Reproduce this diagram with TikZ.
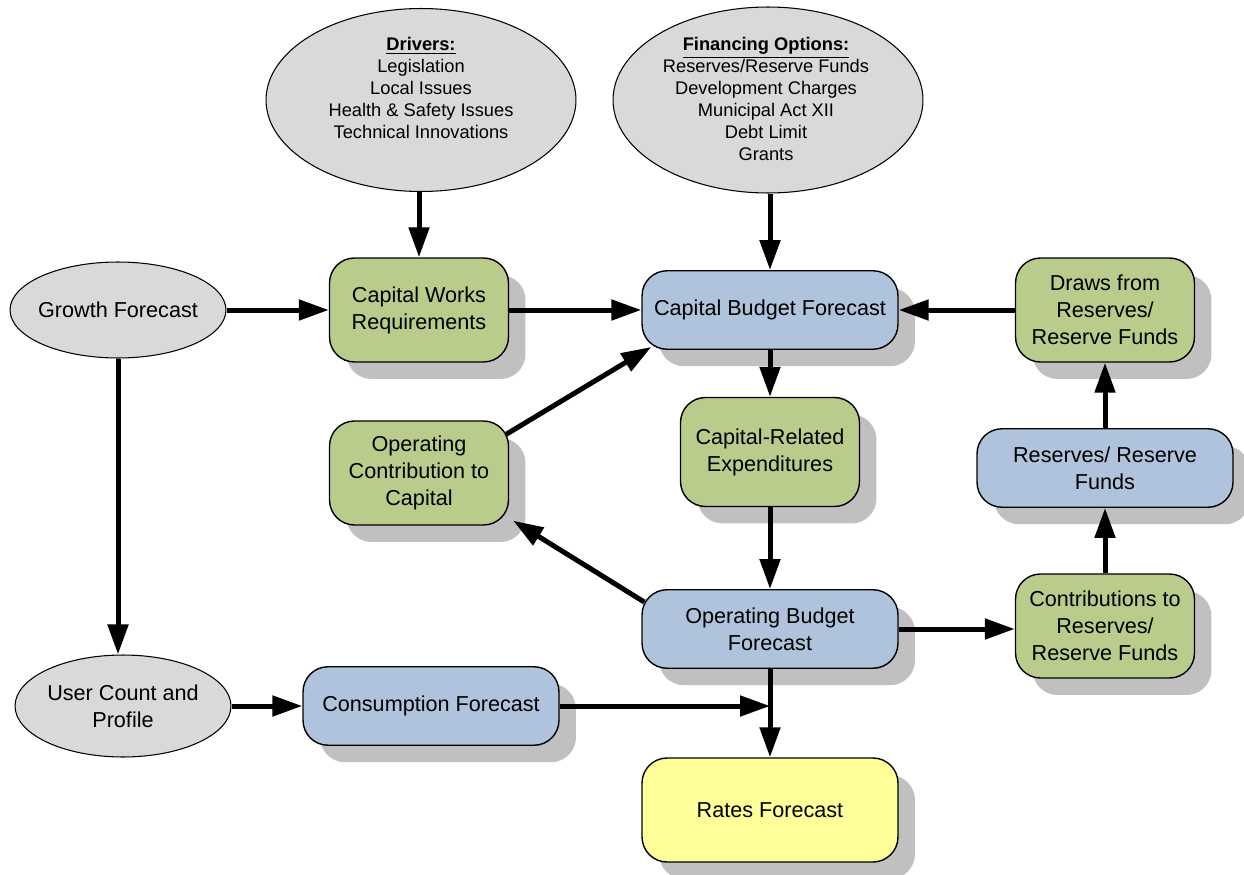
\documentclass[tikz,border=0pt]{standalone}
\usepackage{fontspec}
\setmainfont{Liberation Sans}
\usetikzlibrary{calc, positioning}
\usetikzlibrary{shapes.geometric, shadows}
\usetikzlibrary{arrows.meta}

\definecolor{ovalgray}{RGB}{217,217,217}
\definecolor{boxgreen}{RGB}{185,204,139}
\definecolor{boxblue}{RGB}{176,195,220}
\definecolor{boxyellow}{RGB}{255,255,153}
\definecolor{shadowgray}{RGB}{192,192,192}

\newcommand{\boxfont}{\fontsize{12.3}{15.3}\selectfont}
\newcommand{\listfont}{\fontsize{10.4}{12.5}\selectfont}

\begin{document}
\begin{tikzpicture}[x=0.02cm, y=-0.02cm,
  oval/.style={ellipse, draw=black, line width=0.6pt, fill=ovalgray, inner xsep=-0.15cm, inner ysep=0pt, align=center, font=\boxfont},
  box/.style={rectangle, rounded corners=0.5cm, draw=black, line width=0.8pt, inner sep=0pt, align=center, font=\boxfont,
    drop shadow={shadow xshift=0.34cm, shadow yshift=-0.34cm, fill=shadowgray, opacity=1}},
  greenbox/.style={box, fill=boxgreen, minimum width=3.58cm, minimum height=2.08cm},
  bluebox/.style={box, fill=boxblue, minimum width=5.12cm, minimum height=1.57cm},
  flow/.style={line width=0.1cm, -{Triangle[length=0.6cm, width=0.4cm]}}]
\useasboundingbox (0,0) rectangle (1244,875);

\node[oval, minimum width=6.2cm, minimum height=3.66cm] (drivers) at (421,100) {};
\node[align=center, font=\listfont] (driverslist) at (421,88)
  {\underline{\textbf{Drivers:}}\\Legislation\\Local Issues\\Health \& Safety Issues\\Technical Innovations};
\node[oval, minimum width=6.2cm, minimum height=3.72cm] (financing) at (768,100) {};
\node[align=center, font=\listfont] (financinglist) at (766,99)
  {\underline{\textbf{Financing Options:}}\\Reserves/Reserve Funds\\Development Charges\\Municipal Act XII\\Debt Limit\\Grants};

\node[oval, minimum width=4.32cm, minimum height=1.92cm] (growth) at (118,310) {Growth Forecast};
\node[oval, minimum width=4.32cm, minimum height=2.04cm] (usercount) at (123,706) {User Count and\\Profile};

\node[greenbox] (cwr) at (419,310) {Capital Works\\Requirements};
\node[bluebox] (cbf) at (770,310) {Capital Budget Forecast};
\node[greenbox] (draws) at (1105,310) {Draws from\\Reserves/\\Reserve Funds};
\node[greenbox] (occ) at (419,473) {Operating\\Contribution to\\Capital};
\node[greenbox, minimum height=2.18cm] (cre) at (770,452) {Capital-Related\\Expenditures};
\node[bluebox] (reserves) at (1105,468) {Reserves/ Reserve\\Funds};
\node[bluebox] (obf) at (770,629) {Operating Budget\\Forecast};
\node[greenbox] (contrib) at (1105,626) {Contributions to\\Reserves/\\Reserve Funds};
\node[bluebox] (cons) at (431,706) {Consumption Forecast};
\node[box, fill=boxyellow, minimum width=5.12cm, minimum height=2.08cm] (rates) at (770,810) {Rates Forecast};

\coordinate (junc) at (obf.south |- cons.east);

\draw[flow] (cwr.north |- drivers.south) -- (cwr.north);
\draw[flow] (cbf.north |- financing.south) -- (cbf.north);
\draw[flow] (growth) -- (cwr);
\draw[flow] (cwr) -- (cbf);
\draw[flow] (draws) -- (cbf);
\draw[flow] (cbf) -- (cre);
\draw[flow] (cre) -- (obf);
\draw[flow] ($(occ.north east)+(-3,14)$) -- ($(cbf.south west)+(10,-3)$);
\draw[flow] ($(obf.north west)+(3,13)$) -- ($(occ.south east)+(4,-5)$);
\draw[flow] (obf.east) -- (obf.east -| contrib.west);
\draw[flow] (contrib) -- (reserves);
\draw[flow] (reserves) -- (draws);
\draw[flow] (growth.south) -- (growth.south |- usercount.north);
\draw[flow] (usercount) -- (cons);
\draw[flow] (cons) -- (junc);
\draw[flow] (obf) -- (rates);
\end{tikzpicture}
\end{document}
